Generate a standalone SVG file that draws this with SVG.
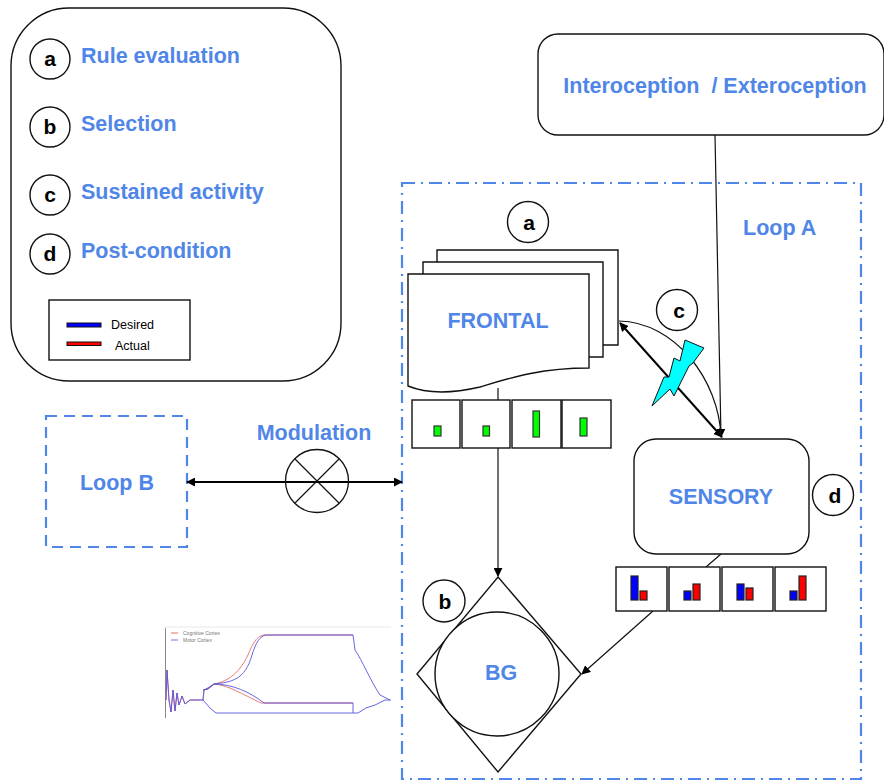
<svg xmlns="http://www.w3.org/2000/svg" width="884" height="781" viewBox="0 0 884 781">
<style>
text{font-family:"Liberation Sans",Arial,sans-serif}
.lb{fill:#4f86e8;font-weight:700;font-size:21.5px}
.l{fill:#000;font-weight:700;font-size:21px;text-anchor:middle}
.s{fill:#fff;stroke:#111;stroke-width:1.4}
.c{fill:none;stroke:#111;stroke-width:1.2}
.t{fill:none;stroke:#000;stroke-width:2}
.g{fill:#00ff00;stroke:#333;stroke-width:1.2}
.b{fill:#0000ff;stroke:#222;stroke-width:1.2}
.r{fill:#ff0000;stroke:#222;stroke-width:1.2}
.d{fill:none;stroke:#4f86e8;stroke-width:2.2}
</style>
<defs>
<marker id="a" viewBox="0 0 10 10" refX="9" refY="5" markerWidth="9" markerHeight="9" markerUnits="userSpaceOnUse" orient="auto-start-reverse"><path d="M0 0L10 5L0 10Z" fill="#000"/></marker>
</defs>
<rect width="884" height="781" fill="#fff"/>
<g id="legend">
<rect x="11" y="8" width="330" height="373" rx="58" class="s"/>
<circle cx="50" cy="59" r="20" class="s"/><text x="50" y="66" class="l">a</text>
<circle cx="50" cy="127" r="20" class="s"/><text x="50" y="134" class="l">b</text>
<circle cx="50" cy="195" r="20" class="s"/><text x="50" y="202" class="l">c</text>
<circle cx="50" cy="254" r="20" class="s"/><text x="50" y="261" class="l">d</text>
<text x="81" y="63" class="lb">Rule evaluation</text>
<text x="81" y="131" class="lb">Selection</text>
<text x="81" y="199" class="lb">Sustained activity</text>
<text x="81" y="258" class="lb">Post-condition</text>
<rect x="49" y="300" width="141" height="60" class="s"/>
<rect x="67" y="323" width="34" height="4" fill="#0000ff" stroke="#111"/>
<rect x="67" y="342" width="34" height="3.5" fill="#ff0000" stroke="#111"/>
<text x="111" y="329" font-size="12.5">Desired</text>
<text x="115" y="350" font-size="12.5">Actual</text>
</g>
<g id="intero">
<rect x="538" y="34" width="346" height="101" rx="20" class="s"/>
<text x="715" y="93" class="lb" text-anchor="middle" xml:space="preserve" font-size="22">Interoception  / Exteroception</text>
</g>
<g id="loopA">
<rect x="402" y="183" width="459" height="596" class="d" stroke-dasharray="13 6 2 6"/>
<text x="743" y="235" class="lb">Loop A</text>
</g>
<g id="loopB">
<rect x="46" y="416" width="141" height="131" class="d" stroke-dasharray="11 7"/>
<text x="117" y="490" class="lb" text-anchor="middle">Loop B</text>
</g>
<g id="connectors">
<path class="c" d="M715 135L721 437" marker-end="url(#a)"/>
<path class="t" d="M620 323L722 437" marker-start="url(#a)" marker-end="url(#a)"/>
<path class="c" d="M619 321C675 322 719 380 721 437"/>
<path class="c" d="M498 388V400M498 448V576" marker-end="url(#a)"/>
<path class="c" d="M721 554L706 567M653 611L582 674" marker-end="url(#a)"/>
<path class="t" d="M187 482H402" stroke-width="1.6" marker-start="url(#a)" marker-end="url(#a)"/>
</g>
<g id="frontal">
<path class="s" d="M437 250H618V345H437Z"/>
<path class="s" d="M423 262H603V357H423Z"/>
<path class="s" d="M408 274H589V368C540 368 510 378 480 387C450 394 425 393 408 386Z"/>
<text x="498" y="328" class="lb" text-anchor="middle" font-size="22">FRONTAL</text>
</g>
<g id="frontal-bars">
<rect x="412" y="400" width="48" height="48" class="s"/><rect x="434" y="426" width="7" height="10" class="g"/>
<rect x="462" y="400" width="48" height="48" class="s"/><rect x="483" y="426" width="6.500" height="10" class="g"/>
<rect x="512" y="400" width="49" height="48" class="s"/><rect x="533" y="411" width="6.500" height="26" class="g"/>
<rect x="562" y="400" width="49" height="48" class="s"/><rect x="580" y="418" width="7" height="18" class="g"/>
</g>
<g id="bolt">
<path d="M685 340L704 348L693 363L689 366L674 396L670 389L652 406L664 377L669 377L674 358L680 361Z" fill="#00ffff" stroke="#111" stroke-width="1"/>
</g>
<g id="c-label"><circle cx="677" cy="310" r="20.500" class="s"/><text x="679" y="318" class="l">c</text></g>
<g id="a-label"><circle cx="528" cy="222" r="20.500" class="s"/><text x="529" y="230" class="l">a</text></g>
<g id="d-label"><circle cx="833" cy="495" r="20.500" class="s"/><text x="835" y="503" class="l">d</text></g>
<g id="b-label"><circle cx="444" cy="601" r="21" class="s"/><text x="445" y="609" class="l">b</text></g>
<g id="sensory">
<rect x="634" y="439" width="175" height="115" rx="22" class="s"/>
<text x="721" y="504" class="lb" text-anchor="middle">SENSORY</text>
</g>
<g id="sensory-bars">
<rect x="616" y="567" width="51" height="44" class="s"/><rect x="631" y="576" width="7" height="24" class="b"/><rect x="640" y="591" width="7" height="9" class="r"/>
<rect x="669" y="567" width="51" height="44" class="s"/><rect x="684" y="591" width="7" height="9" class="b"/><rect x="693" y="584" width="7" height="16" class="r"/>
<rect x="722" y="567" width="51" height="44" class="s"/><rect x="737" y="584" width="7" height="16" class="b"/><rect x="746" y="588" width="7" height="12" class="r"/>
<rect x="775" y="567" width="51" height="44" class="s"/><rect x="790" y="591" width="7" height="9" class="b"/><rect x="799" y="576" width="7" height="24" class="r"/>
</g>
<g id="bg">
<path class="s" d="M498 577L581 674L498 772L417 674Z"/>
<circle cx="497" cy="674" r="62" class="s"/>
<text x="501" y="680" class="lb" text-anchor="middle" font-size="22">BG</text>
</g>
<g id="modulation">
<text x="314" y="440" class="lb" text-anchor="middle">Modulation</text>
<circle cx="317" cy="481" r="31.500" fill="none" stroke="#111" stroke-width="1.300"/>
<path class="c" d="M295 459L339 503M339 459L295 503"/>
</g>
<g id="plot" fill="none">
<path d="M165 627H391" stroke="#e8e8e8"/>
<path d="M165.500 628V718" stroke="#888"/>
<g stroke-width="0.900">
<path d="M166 700L167 670L169 700L171 712L173 690L175 711L177 693L179 705L182 696L185 704L190 700L197 700L203 700L204 690L208 688L214 684C225 682 238 676 248 655C254 640 258 636 264 635H353" stroke="#e86b6b"/>
<path d="M203 690L208 689L214 684C228 685 242 694 261 703H353" stroke="#e86b6b"/>
<path d="M166 700L167 670L169 700L171 712L173 690L175 711L177 693L179 705L182 696L185 704L190 700L197 700L203 700L204 690L208 688L214 684C232 682 245 680 252 655C256 642 260 636 266 635H353L355 650C362 660 370 680 380 695L390 700" stroke="#5555dd"/>
<path d="M203 690L208 689L214 684C232 684 250 692 264 703H353V713H358L366 708L375 705L385 700L391 700" stroke="#5555dd"/>
<path d="M203 700L210 708L216 713H353" stroke="#5555dd"/>
</g>
<path d="M171 633H178" stroke="#e86b6b"/><path d="M171 640H178" stroke="#7777ee"/>
<text x="183" y="635" font-size="5" fill="#777">Cognitive Cortex</text>
<text x="183" y="642" font-size="5" fill="#777">Motor Cortex</text>
</g>
</svg>
